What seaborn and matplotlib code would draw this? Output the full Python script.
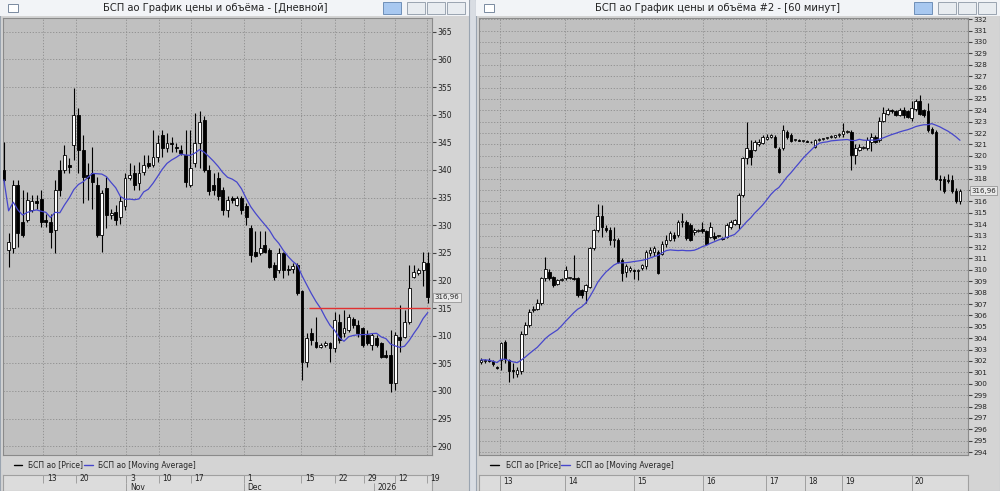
import numpy as np
import pandas as pd
import matplotlib
matplotlib.use("Agg")
import matplotlib.pyplot as plt
from matplotlib.patches import Rectangle
import seaborn as sns

# ---------------- data: daily ----------------
d_open = [340,325.5,325.8,337.3,330.6,331,332.7,334.4,334.8,331,330.6,329.1,340,340,340.9,344.5,350,343.6,339.1,339.4,
          337.3,328.2,336.7,331.8,332.4,331.5,333.4,338.5,339.4,337.6,339.7,341.2,340.9,342.4,346.3,343.9,344.9,344.2,343.6,342.7,
          337.3,341.2,344.8,349.1,340,337.3,338.5,336.4,332.7,334.9,333.7,334.9,333.4,329.5,325.2,324.9,326.4,325.5,322.8,321.9,
          324.9,322,322,322.8,318,305.3,310.4,308.9,307.9,308.3,308.6,307.7,312.5,310.4,311,313.1,311.9,311.3,310.1,308.3,
          309.5,308.6,306.5,306.5,301.4,309.8,309.8,312.5,320.7,321.3,321.9,323.1]
d_high = [345.1,328.5,338.2,338.2,336.4,336,335.5,335.5,336.4,332.1,332.1,338.2,341.8,344.5,342.1,354.8,351.2,346.3,341.2,344.2,
          338.8,336.4,338.8,333,333.6,335.2,339.4,341.2,340.9,341.5,342.7,342.7,347.2,346.3,347.2,346.6,346,344.8,344.5,347.2,
          347.2,350.3,350.6,349.7,340.9,339.4,339.7,337,335.2,335.2,335.2,335.2,334,330,329,329,329,325.8,323.4,325.8,
          325.2,322.8,323.1,323.1,318.3,310.4,311.3,313.4,308.6,309,308.9,314.3,314,314.6,314,313.4,312.8,311.6,311,310.4,
          310.1,308.9,307.4,311,310.7,315.5,314.6,322.8,322.8,322.2,325.2,325.2]
d_low = [337.6,322.5,325,326.1,327.9,330.6,332.4,333,329.7,329.7,325.8,324.9,335.2,339.4,339.4,341.8,339.4,334,334.6,333,
         327.9,325.2,329.4,331.2,330,330.3,332.7,338.2,336.4,336.4,339.1,340.3,340.6,341.5,342.4,343.3,343.3,343.3,342.7,337,
         337,340.6,340.3,339.7,335.5,335.5,334.6,331.8,331.5,334,333.4,332.1,330,323.4,324.3,324.6,324.9,322.2,320.1,321.3,
         320.4,321,321.3,317.4,302,304.4,308.3,307.7,307.7,308,305.3,307.1,308.6,309.8,310.7,311.3,309.8,308,308.3,307.4,
         308,305.9,305.9,299.8,300.1,307.1,309.5,312.2,320.4,321,318.9,315.9]
d_close = [338.2,327,337.3,328.5,328.2,334.6,334.3,334.0,330.6,330.6,328.8,336.4,336.4,342.7,340.6,350,343.6,338.8,338.5,337.9,
           328.2,335.8,331.8,332.2,330.9,334.3,338.5,339.1,337.3,339.4,340.9,340.7,342.4,344.8,343.9,344.8,344.7,343.9,343,337.9,
           340.3,344.8,348.7,340,336.1,336.4,335.2,332.7,334.6,334.6,334.9,332.7,331.5,324.6,324.4,325.8,325.2,322.5,320.7,324.9,
           321.9,321.9,322.6,317.7,305.3,309.5,309.2,308,308.3,308.6,307.7,312.8,309.2,311.3,313.4,311.9,310.4,308.3,308.6,310.1,
           308.3,306.2,306.2,301.4,310.1,309.2,312.5,318.6,321.6,321.9,323.4,316.96]
d_tick_pos = [8.4, 15.5, 26.3, 33.2, 40.1, 51.5, 63.8, 71.0, 77.2, 83.9, 90.8]
d_tick_lab = ["13", "20", "3", "10", "17", "1", "15", "22", "29", "12", "19"]
d_month_pos = [26.3, 51.5, 79.5]
d_month_lab = ["Nov", "Dec", "2026"]
d_level = 315.0
d_level_from = 65.5

# ---------------- data: 60 minutes ----------------
h_ohlc = [
(301.9,302.3,301.7,302.1),(302.0,302.2,301.8,302.1),(302.1,302.3,301.9,302.0),(302.0,302.1,301.6,301.7),(301.5,301.6,301.3,301.4),
(302.1,303.7,301.2,303.6),(303.7,303.8,301.8,302.2),(302.1,302.2,300.2,301.1),(301.2,301.8,300.5,301.1),(300.9,301.5,300.6,301.2),
(301.1,304.6,300.9,304.4),(304.4,305.4,304.3,305.2),(305.2,306.6,305.0,306.3),(306.5,306.8,306.3,306.6),(306.6,307.4,306.5,307.1),
(307.1,309.4,306.9,309.3),(309.3,311.1,309.0,310.1),(309.8,310.1,309.1,309.3),(309.4,309.5,308.5,308.7),(308.8,309.2,308.7,309.1),
(309.1,309.3,309.0,309.2),(309.3,310.3,309.1,310.0),(309.3,309.4,309.2,309.3),(309.3,311.3,309.1,309.2),(309.3,309.4,307.6,307.8),
(308.2,308.3,307.5,307.8),(308.1,308.8,307.1,308.7),(308.5,312.0,308.4,311.9),(311.9,313.6,311.7,313.5),(313.5,315.8,313.3,314.7),
(314.7,315.7,312.9,313.8),(313.7,313.9,313.3,313.5),(313.5,313.8,312.2,312.6),(312.6,313.8,312.0,312.7),(312.6,312.8,310.6,310.7),
(310.9,311.0,309.0,309.7),(309.8,310.5,309.4,310.3),(310.0,310.3,309.8,310.2),(310.0,310.1,309.2,309.9),(309.9,310.1,309.1,310.0),
(310.2,310.5,310.0,310.4),(310.3,311.7,310.1,311.6),(311.5,312.0,311.2,311.7),(311.6,312.1,311.2,311.9),(311.6,311.7,309.6,309.7),
(311.4,312.5,311.3,312.3),(312.3,313.1,312.0,312.6),(312.6,313.4,312.5,313.2),(313.1,313.3,312.5,312.8),(313.1,314.4,312.9,314.2),
(314.2,315.0,313.8,314.3),(314.2,314.4,312.6,312.8),(313.9,314.1,312.5,312.6),(313.3,313.7,313.1,313.5),(313.4,313.6,313.3,313.5),
(313.6,314.2,313.2,313.4),(313.4,313.5,312.2,312.3),(312.9,314.2,312.8,313.8),(313.0,313.3,312.6,312.8),(313.0,313.1,312.9,313.0),
(312.8,312.9,312.6,312.7),(312.9,314.1,312.8,313.9),(313.8,314.4,313.6,314.2),(314.0,314.5,313.9,314.4),(314.0,316.7,313.6,316.6),
(316.6,319.9,316.4,319.8),(319.8,323.0,319.3,320.7),(320.5,321.4,319.2,319.9),(320.5,321.4,320.4,321.2),(321.0,321.5,320.9,321.2),
(321.1,321.8,321.0,321.7),(321.5,321.9,321.4,321.7),(321.7,321.9,321.6,321.8),(321.7,321.8,320.7,320.8),(320.6,320.8,318.5,318.6),
(320.7,322.7,320.5,322.3),(322.1,322.3,321.5,321.7),(321.8,322.0,321.2,321.3),(321.4,321.5,321.3,321.4),(321.4,321.5,321.3,321.3),
(321.3,321.4,321.2,321.3),(321.3,321.4,321.2,321.2),(321.2,321.3,321.1,321.2),(320.8,321.5,320.7,321.4),(321.4,321.6,321.3,321.5),
(321.5,321.6,321.4,321.5),(321.6,321.7,321.5,321.6),(321.7,321.8,321.6,321.7),(321.7,321.8,321.6,321.8),(321.8,322.0,321.7,321.9),
(321.9,322.9,321.7,322.2),(322.1,322.3,322.0,322.2),(322.1,322.3,318.8,320.1),(320.1,321.0,319.3,320.7),(320.5,321.0,320.4,320.8),
(320.7,320.9,320.6,320.8),(320.7,321.7,320.5,321.4),(321.2,322.0,320.4,321.7),(321.7,321.8,321.1,321.2),(321.4,323.4,321.2,323.1),
(323.1,324.3,323.0,323.8),(323.7,324.2,323.6,324.0),(324.0,324.1,323.8,323.9),(323.9,324.0,323.5,323.6),(323.6,324.2,323.5,324.0),
(324.0,324.3,323.3,323.6),(323.9,324.0,323.3,323.4),(323.3,324.8,323.1,324.2),(324.1,325.0,323.9,324.8),(324.8,325.3,323.6,323.7),
(324.0,324.1,323.4,323.6),(323.9,324.6,322.1,322.3),(322.4,322.5,321.9,322.0),(322.1,322.3,317.9,318.0),(318.0,318.3,317.0,317.9),
(318.0,318.2,316.7,316.9),(317.9,318.4,317.6,317.8),(317.9,318.3,316.7,316.9),(316.9,317.2,315.9,316.0),(316.0,317.1,315.8,316.96)]
h_tick_pos = [4.7, 20.9, 38.0, 55.2, 70.7, 80.5, 89.8, 107.0]
h_tick_lab = ["13", "14", "15", "16", "17", "18", "19", "20"]

sns.set_style("white")
plt.rcParams['font.family'] = ['DejaVu Sans']

W, H = 1000, 491
fig = plt.figure(figsize=(10, 4.91), dpi=100, facecolor='#d9dde3')

def fa(x0, y0, x1, y1):
    return fig.add_axes([x0 / W, 1 - y1 / H, (x1 - x0) / W, (y1 - y0) / H])

PLOT_BG = '#c0c0c0'
FRAME_BG = '#d4d4d4'

def candles(ax, o, h, l, c):
    o, h, l, c = map(np.asarray, (o, h, l, c))
    x = np.arange(len(o))
    ax.vlines(x, l, h, color='black', lw=0.8, zorder=3)
    up = c >= o
    bot = np.minimum(o, c)
    ht = np.maximum(np.abs(c - o), 0.05)
    ax.bar(x[up], ht[up], bottom=bot[up], width=0.62, color='white', edgecolor='black', lw=0.6, zorder=4)
    ax.bar(x[~up], ht[~up], bottom=bot[~up], width=0.62, color='black', edgecolor='black', lw=0.6, zorder=4)

def window(x0, x1, plot_x1, title, ylim, yticks, xlim, tpos, tlab, mpos, mlab, o, h, l, c, ma_win, level=None, lab_fs=5.5):
    fr = fa(x0, 0, x1, H); fr.set_facecolor(FRAME_BG); fr.set_xticks([]); fr.set_yticks([])
    for s in fr.spines.values(): s.set_color('#9aa4b0')
    tb = fa(x0, 0, x1, 16); tb.set_facecolor('#f2f4f7'); tb.set_xticks([]); tb.set_yticks([])
    for s in tb.spines.values(): s.set_visible(False)
    tb.text(0.46, 0.5, title, ha='center', va='center', fontsize=7.2, color='#222222', transform=tb.transAxes)
    tb.add_patch(Rectangle((8 / (x1 - x0), 0.25), 10 / (x1 - x0), 0.5, transform=tb.transAxes, fc='white', ec='#7a8aa0', lw=0.7))
    bw = 18 / (x1 - x0)
    tb.add_patch(Rectangle(((x1 - x0 - 86) / (x1 - x0), 0.12), bw, 0.76, transform=tb.transAxes, fc='#a8c8f0', ec='#6f8fb8', lw=0.7))
    for k in range(3):
        tb.add_patch(Rectangle(((x1 - x0 - 62 + 20 * k) / (x1 - x0), 0.12), bw, 0.76, transform=tb.transAxes, fc='#e8ecf0', ec='#9aa4b0', lw=0.7))
    ax = fa(x0 + 3, 18, plot_x1, 455)
    ax.set_facecolor(PLOT_BG)
    candles(ax, o, h, l, c)
    ma = pd.Series(c).rolling(ma_win, min_periods=1).mean()
    sns.lineplot(x=np.arange(len(c)), y=ma.values, ax=ax, color='#4646cc', lw=0.9, zorder=5)
    if level is not None:
        ax.hlines(level[0], level[1], len(c) - 0.5, color='#e03030', lw=1.0, zorder=6)
    ax.set_xlim(*xlim); ax.set_ylim(*ylim)
    ax.yaxis.tick_right()
    ax.set_yticks(yticks)
    ax.set_yticklabels([str(v) for v in yticks], fontsize=lab_fs, color='#222222')
    ax.tick_params(axis='y', length=3, pad=1, color='#444444')
    ax.set_xticks(tpos); ax.set_xticklabels([])
    ax.tick_params(axis='x', length=0)
    ax.grid(True, color='#8c8c8c', ls=(0, (1.5, 2)), lw=0.6)
    for s in ax.spines.values(): s.set_color('#8a8a8a')
    ax.set_xlabel(''); ax.set_ylabel('')
    last = c[-1]
    ax.text(1.006, last, f"{last:.2f}".replace('.', ','), transform=ax.get_yaxis_transform(), fontsize=5.0,
            va='center', ha='left', bbox=dict(fc='#e8e8e8', ec='#888888', lw=0.5, pad=1.0), zorder=10)
    lg = fa(x0, 456, x1, 474); lg.set_facecolor(FRAME_BG); lg.axis('off')
    lx = 14 / (x1 - x0)
    lg.plot([lx, lx + 0.018], [0.5, 0.5], color='black', lw=1, transform=lg.transAxes)
    lg.text(lx + 0.03, 0.5, 'БСП ао [Price]', fontsize=5.5, va='center', transform=lg.transAxes)
    lx2 = lx + (0.15 if x1 - x0 < 480 else 0.135)
    lg.plot([lx2, lx2 + 0.018], [0.5, 0.5], color='#4646cc', lw=1, transform=lg.transAxes)
    lg.text(lx2 + 0.03, 0.5, 'БСП ао [Moving Average]', fontsize=5.5, va='center', transform=lg.transAxes)
    st = fa(x0 + 3, 475, plot_x1, 491)
    st.set_facecolor('#dcdcdc'); st.set_xlim(*xlim); st.set_ylim(0, 1)
    st.set_xticks([]); st.set_yticks([])
    for s in st.spines.values(): s.set_color('#a0a0a0')
    st.vlines(tpos, 0.5 if mpos else 0.0, 1, color='#a0a0a0', lw=0.7)
    for p, t in zip(tpos, tlab):
        st.text(p + 0.8, 0.78 if mpos else 0.6, t, fontsize=5.5, va='center', ha='left', color='#222222')
    for p, t in zip(mpos, mlab):
        st.vlines([p], 0, 0.5, color='#a0a0a0', lw=0.7)
        st.text(p + 0.8, 0.25, t, fontsize=5.5, va='center', ha='left', color='#222222')
    return ax

window(0, 469, 432, 'БСП ао График цены и объёма - [Дневной]',
       (288.4, 367.5), list(range(290, 366, 5)), (-0.2, 91.9),
       d_tick_pos, d_tick_lab, d_month_pos, d_month_lab,
       d_open, d_high, d_low, d_close, 10, level=(d_level, d_level_from))

ho = [r[0] for r in h_ohlc]; hh = [r[1] for r in h_ohlc]
hl = [r[2] for r in h_ohlc]; hc = [r[3] for r in h_ohlc]
window(476, 1000, 968, 'БСП ао График цены и объёма #2 - [60 минут]',
       (293.75, 332.1), list(range(294, 333)), (-0.5, 121.0),
       h_tick_pos, h_tick_lab, [], [],
       ho, hh, hl, hc, 20, lab_fs=5.2)

fig.savefig('out.png', dpi=100, facecolor=fig.get_facecolor())
